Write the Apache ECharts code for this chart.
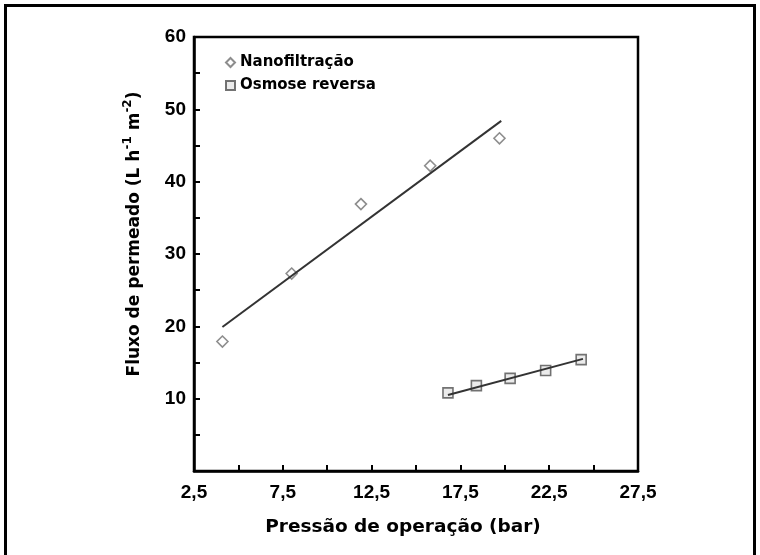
<!DOCTYPE html>
<html>
<head>
<meta charset="utf-8">
<script src="https://cdn.jsdelivr.net/npm/echarts@6/dist/echarts.min.js"></script>
<style>html,body{margin:0;padding:0;background:#fff;}#c{width:760px;height:555px;}</style>
</head>
<body>
<div id="c"></div>
<script>
// Data
var nfPressure = [4.1, 8.0, 11.9, 15.8, 19.7];
var nfFlux = [17.9, 27.3, 36.9, 42.2, 46.0];
var nfFitX = [4.1, 19.8];
var nfFitY = [19.9, 48.4];
var roPressure = [16.8, 18.4, 20.3, 22.3, 24.3];
var roFlux = [10.8, 11.8, 12.8, 13.9, 15.4];
var roFitX = [16.8, 24.4];
var roFitY = [10.5, 15.5];
var xTicks = [2.5, 7.5, 12.5, 17.5, 22.5, 27.5];
var yTicks = [10, 20, 30, 40, 50, 60];
var seriesNames = ['Nanofiltração', 'Osmose reversa'];

function pairs(xs, ys) { return xs.map(function (x, i) { return [x, ys[i]]; }); }
function inList(v, list) { return list.some(function (t) { return Math.abs(t - v) < 1e-6; }); }

var FONT = '"Liberation Sans", Arial, sans-serif';
var WFONT = '"DejaVu Sans", "Liberation Sans", sans-serif';
var chart = echarts.init(document.getElementById('c'), null, {renderer: 'canvas'});
chart.setOption({
  animation: false,
  backgroundColor: '#fff',
  grid: {left: 194, top: 37, width: 444, height: 434, show: true, borderColor: '#000', borderWidth: 2.5, backgroundColor: 'transparent'},
  legend: {
    data: seriesNames,
    orient: 'vertical',
    left: 220, top: 50,
    itemWidth: 9, itemHeight: 9, itemGap: 8,
    textStyle: {fontFamily: WFONT, fontWeight: 'bold', fontSize: 15, color: '#000'}
  },
  xAxis: {
    type: 'value', min: 2.5, max: 27.5, interval: 2.5,
    axisLine: {show: true, lineStyle: {color: '#000', width: 2.5}},
    axisTick: {show: true, inside: true, length: 6, lineStyle: {color: '#000', width: 2}},
    splitLine: {show: false},
    axisLabel: {
      margin: 12, color: '#000', fontFamily: FONT, fontWeight: 'bold', fontSize: 19,
      showMinLabel: true, showMaxLabel: true,
      formatter: function (v) { return inList(v, xTicks) ? String(v).replace('.', ',') : ''; }
    }
  },
  yAxis: {
    type: 'value', min: 0, max: 60, interval: 5,
    axisLine: {show: true, lineStyle: {color: '#000', width: 2.5}},
    axisTick: {show: true, inside: true, length: 6, lineStyle: {color: '#000', width: 2}},
    splitLine: {show: false},
    axisLabel: {
      margin: 8, color: '#000', fontFamily: FONT, fontWeight: 'bold', fontSize: 19,
      showMaxLabel: true,
      formatter: function (v) { return inList(v, yTicks) ? String(v) : ''; }
    }
  },
  graphic: [
    {type: 'polyline', shape: {points: [[5.5, 555], [5.5, 5.5], [754.5, 5.5], [754.5, 555]]}, style: {stroke: '#000', lineWidth: 3, fill: null}, silent: true},
    {type: 'text', x: 403, y: 527, style: {text: 'Pressão de operação (bar)', font: 'bold 18.5px ' + WFONT, fill: '#000', align: 'center', verticalAlign: 'middle'}},
    {type: 'text', x: 135, y: 234, rotation: Math.PI / 2,
     style: {
       text: 'Fluxo de permeado (L h{s|-1} m{s|-2})',
       font: 'bold 17px ' + WFONT, fill: '#000', align: 'center', verticalAlign: 'middle',
       rich: {s: {fontSize: 12, fontWeight: 'bold', fontFamily: WFONT, fill: '#000', verticalAlign: 'top', lineHeight: 26, padding: [0, 0, 10, 0]}}
     }}
  ],
  series: [
    {name: seriesNames[0], type: 'scatter', data: pairs(nfPressure, nfFlux), symbol: 'diamond', symbolSize: 11,
     itemStyle: {color: '#fff', borderColor: '#707070', borderWidth: 1.6}, z: 2},
    {name: seriesNames[1], type: 'scatter', data: pairs(roPressure, roFlux), symbol: 'rect', symbolSize: 10,
     itemStyle: {color: '#e6e6e6', borderColor: '#505050', borderWidth: 1.6}, z: 2},
    {type: 'line', data: pairs(nfFitX, nfFitY), showSymbol: false, symbol: 'none', lineStyle: {color: '#333', width: 2}, z: 3},
    {type: 'line', data: pairs(roFitX, roFitY), showSymbol: false, symbol: 'none', lineStyle: {color: '#333', width: 2}, z: 3}
  ]
});
</script>
</body>
</html>
